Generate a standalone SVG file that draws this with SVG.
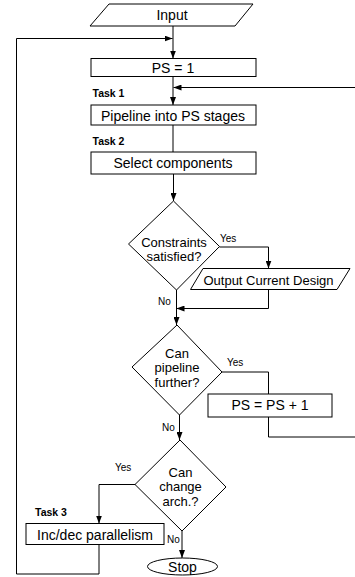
<svg xmlns="http://www.w3.org/2000/svg" width="355" height="577" viewBox="0 0 355 577">
<style>
.s{fill:#fff;stroke:#000;stroke-width:1}
.c{fill:none;stroke:#000;stroke-width:1}
.t{font-family:"Liberation Sans",Arial,sans-serif;font-size:14px;fill:#000;text-anchor:middle}
.d{font-family:"Liberation Sans",Arial,sans-serif;font-size:13px;fill:#000;text-anchor:middle}
.o{font-family:"Liberation Sans",Arial,sans-serif;font-size:13px;fill:#000;text-anchor:middle}
.l{font-family:"Liberation Sans",Arial,sans-serif;font-size:10px;fill:#000}
.k{font-family:"Liberation Sans",Arial,sans-serif;font-size:10.5px;font-weight:bold;fill:#000}
</style>
<defs>
<marker id="a" markerWidth="8" markerHeight="6" refX="8" refY="3" orient="auto" markerUnits="userSpaceOnUse">
<path d="M0,0 L8,3 L0,6 z" fill="#000"/>
</marker>
</defs>
<g id="connectors">
<path class="c" d="M173,26 V58.5" marker-end="url(#a)"/>
<path class="c" d="M99,544.5 V574 H16.5 V38.5 H172.5" marker-end="url(#a)"/>
<path class="c" d="M173,76.5 V105" marker-end="url(#a)"/>
<path class="c" d="M355,87.5 H173.5" marker-end="url(#a)"/>
<path class="c" d="M173,125 V152"/>
<path class="c" d="M173.5,174 V201" marker-end="url(#a)"/>
<path class="c" d="M219.5,247 H268.5 V268.5" marker-end="url(#a)"/>
<path class="c" d="M268.5,289.5 V308.5 H176.5" marker-end="url(#a)"/>
<path class="c" d="M176.5,290 V325" marker-end="url(#a)"/>
<path class="c" d="M222,372 H268.5 V394"/>
<path class="c" d="M268.5,417 V437 H355"/>
<path class="c" d="M179.5,415 V440" marker-end="url(#a)"/>
<path class="c" d="M135,484.5 H99 V523.5" marker-end="url(#a)"/>
<path class="c" d="M182,531 V558" marker-end="url(#a)"/>
</g>
<g id="input">
<polygon class="s" points="109,4 253,4 235,26 90,26"/>
<text class="t" x="172" y="20">Input</text>
</g>
<g id="ps1">
<rect class="s" x="91" y="58.5" width="165" height="18"/>
<text class="t" x="173" y="72.5">PS = 1</text>
</g>
<g id="task1">
<text class="k" x="92.5" y="97">Task 1</text>
<rect class="s" x="91" y="105" width="165" height="20"/>
<text class="t" x="173" y="120.5">Pipeline into PS stages</text>
</g>
<g id="task2">
<text class="k" x="92.5" y="144.5">Task 2</text>
<rect class="s" x="91" y="152" width="165" height="22"/>
<text class="t" x="173" y="168">Select components</text>
</g>
<g id="constraints">
<polygon class="s" points="173.5,201 219.5,246.5 176.5,290 128.5,244"/>
<text class="d" x="174" y="246.5">Constraints</text>
<text class="d" x="174" y="261">satisfied?</text>
<text class="l" x="220" y="241.5">Yes</text>
<text class="l" x="158" y="305">No</text>
</g>
<g id="output">
<polygon class="s" points="203,268.5 350,268.5 337,289.5 190.5,289.5"/>
<text class="o" x="268.5" y="284.5">Output Current Design</text>
</g>
<g id="canpipeline">
<polygon class="s" points="177,325 222,372 179.5,415 132,367"/>
<text class="d" x="177" y="357.5">Can</text>
<text class="d" x="177" y="372">pipeline</text>
<text class="d" x="177" y="386.5">further?</text>
<text class="l" x="227" y="366">Yes</text>
<text class="l" x="162" y="431">No</text>
</g>
<g id="psinc">
<rect class="s" x="208" y="394" width="124" height="23"/>
<text class="t" x="270" y="410">PS = PS + 1</text>
</g>
<g id="canchange">
<polygon class="s" points="180,440 226,487 182,531 135,484.5"/>
<text class="d" x="180.5" y="476.5">Can</text>
<text class="d" x="180.5" y="491">change</text>
<text class="d" x="180.5" y="505.5">arch.?</text>
<text class="l" x="115" y="470.5">Yes</text>
<text class="l" x="167" y="543">No</text>
</g>
<g id="task3">
<text class="k" x="35" y="516">Task 3</text>
<rect class="s" x="26" y="523.5" width="138" height="21"/>
<text class="t" x="95" y="540">Inc/dec parallelism</text>
</g>
<g id="stop">
<ellipse class="s" cx="182.5" cy="566.5" rx="35" ry="8.5"/>
<text class="t" x="182.5" y="571.5">Stop</text>
</g>
</svg>
